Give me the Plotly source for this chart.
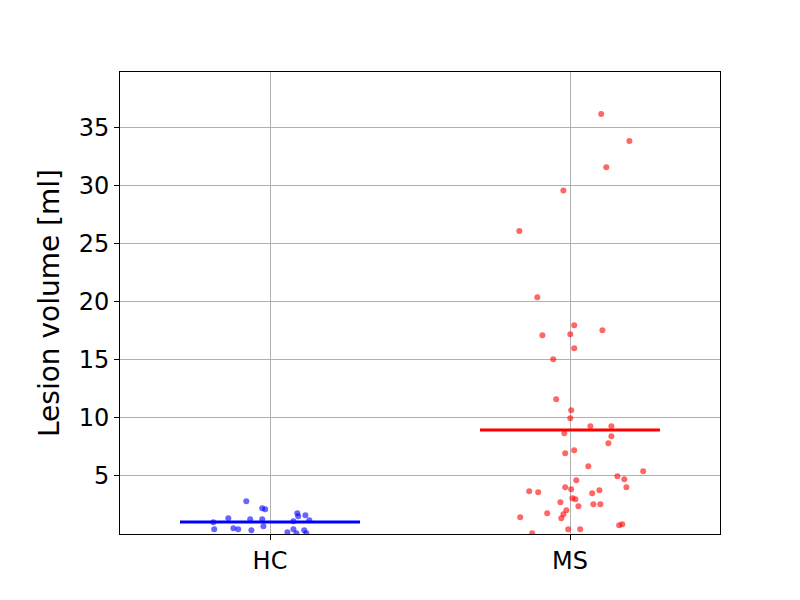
import plotly.graph_objects as go

categories = ["HC", "MS"]

hc_x = [-0.079, -0.026, -0.016, -0.139, -0.066, -0.026, -0.189, -0.022, -0.186, -0.122, -0.106, -0.062,
        0.091, 0.094, 0.118, 0.131, 0.078, 0.078, 0.058, 0.088, 0.114, 0.121]
hc_y = [2.82, 2.21, 2.13, 1.35, 1.27, 1.27, 1.01, 0.66, 0.40, 0.49, 0.40, 0.32,
        1.78, 1.53, 1.61, 1.18, 1.09, 0.40, 0.15, 0.06, 0.32, 0.06]

ms_x = [1.104, 1.198, 1.121, 0.978, 0.831, 0.891, 1.014, 0.908, 1.001, 1.108, 1.014, 0.944,
        0.954, 1.004, 1.001, 1.068, 1.138, 0.981, 1.138, 1.128, 0.984, 1.014, 1.061, 1.244,
        1.158, 1.181, 1.188, 1.021, 0.984, 1.004, 0.864, 0.894, 1.098, 1.074, 1.008, 1.018,
        0.968, 1.028, 1.078, 1.101, 0.988, 0.978, 0.971, 0.924, 0.834, 1.164, 1.174, 0.994,
        1.034, 0.874]
ms_y = [36.18, 33.85, 31.6, 29.6, 26.1, 20.4, 17.99, 17.13, 17.2, 17.56, 16.0, 15.06,
        11.6, 10.66, 9.97, 9.28, 9.28, 8.68, 8.42, 7.82, 6.96, 7.22, 5.84, 5.41,
        4.98, 4.72, 4.03, 4.63, 4.03, 3.85, 3.68, 3.59, 3.77, 3.51, 3.08, 2.99,
        2.73, 2.39, 2.56, 2.56, 2.04, 1.70, 1.35, 1.78, 1.44, 0.75, 0.84, 0.40,
        0.40, 0.06]

means = [1.03, 8.97]
mean_halfwidth = 0.3
colors = ["blue", "red"]
y_ticks = [5, 10, 15, 20, 25, 30, 35]

fig = go.Figure()
for xs, ys, c in [(hc_x, hc_y, colors[0]), (ms_x, ms_y, colors[1])]:
    fig.add_trace(go.Scatter(x=xs, y=ys, mode="markers",
                             marker=dict(color=c, size=6, opacity=0.6, line=dict(width=0)),
                             showlegend=False, cliponaxis=True))
for i, (m, c) in enumerate(zip(means, colors)):
    fig.add_trace(go.Scatter(x=[i - mean_halfwidth, i + mean_halfwidth], y=[m, m], mode="lines",
                             line=dict(color=c, width=3), showlegend=False))

fig.update_layout(
    width=800, height=600,
    margin=dict(l=112, r=88, t=64, b=74),
    paper_bgcolor="white", plot_bgcolor="white",
    font=dict(family="DejaVu Sans", size=24, color="black"),
)
fig.update_xaxes(range=[-0.5, 1.5], tickvals=[0, 1], ticktext=categories,
                 showgrid=True, gridcolor="#b0b0b0", gridwidth=1,
                 showline=True, linecolor="black", linewidth=1, mirror=True,
                 ticks="outside", ticklen=5, tickcolor="black", zeroline=False,
                 tickfont=dict(size=24))
fig.update_yaxes(range=[0, 39.8], tickvals=y_ticks,
                 showgrid=True, gridcolor="#b0b0b0", gridwidth=1,
                 showline=True, linecolor="black", linewidth=1, mirror=True,
                 ticks="outside", ticklen=5, tickcolor="black", zeroline=False,
                 tickfont=dict(size=24),
                 title=dict(text="Lesion volume [ml]", font=dict(size=28), standoff=10))

fig.write_html("out.html")
